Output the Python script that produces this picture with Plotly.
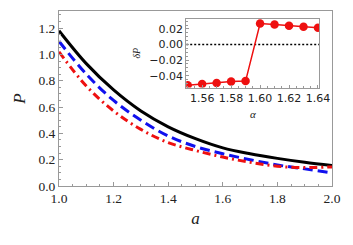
import plotly.graph_objects as go

# Main plot data
a_vals = [1.0, 1.1, 1.2, 1.3, 1.4, 1.5, 1.6, 1.7, 1.8, 1.9, 2.0]
p_black = [1.18, 0.93, 0.73, 0.57, 0.45, 0.36, 0.29, 0.245, 0.21, 0.18, 0.155]
p_blue = [1.10, 0.85, 0.65, 0.50, 0.38, 0.30, 0.245, 0.20, 0.16, 0.13, 0.10]
p_red = [1.02, 0.76, 0.57, 0.43, 0.33, 0.27, 0.22, 0.18, 0.15, 0.14, 0.145]

# Inset data
alpha_vals = [1.55, 1.56, 1.57, 1.58, 1.59, 1.60, 1.61, 1.62, 1.63, 1.64]
dP_vals = [-0.0522, -0.0506, -0.0493, -0.0475, -0.047, 0.0271, 0.0259, 0.0242, 0.0229, 0.0217]

main_ticks_x = [1.0, 1.2, 1.4, 1.6, 1.8, 2.0]
main_ticks_y = [0.0, 0.2, 0.4, 0.6, 0.8, 1.0, 1.2]
inset_ticks_x = [1.56, 1.58, 1.60, 1.62, 1.64]
inset_ticks_y = [-0.04, -0.02, 0.00, 0.02]

fig = go.Figure()
fig.add_trace(go.Scatter(x=a_vals, y=p_black, mode="lines", line=dict(color="black", width=3, shape="spline"), showlegend=False))
fig.add_trace(go.Scatter(x=a_vals, y=p_blue, mode="lines", line=dict(color="#1010ee", width=3, shape="spline", dash="10px,5px"), showlegend=False))
fig.add_trace(go.Scatter(x=a_vals, y=p_red, mode="lines", line=dict(color="#ee1010", width=3, shape="spline", dash="8px,4px,2px,4px"), showlegend=False))

fig.add_trace(go.Scatter(x=[1.549, 1.641], y=[0, 0], xaxis="x2", yaxis="y2", mode="lines",
                         line=dict(color="black", width=1.5, dash="2px,2px"), showlegend=False))
fig.add_trace(go.Scatter(x=alpha_vals, y=dP_vals, xaxis="x2", yaxis="y2", mode="lines+markers",
                         line=dict(color="#ee1010", width=1.5), marker=dict(color="#ee1010", size=8.5), showlegend=False))

serif = "Liberation Serif"
sans = "DejaVu Sans"
gray = "#999999"

fig.update_layout(
    width=353, height=245,
    margin=dict(l=59, r=11, t=10, b=59),
    plot_bgcolor="white", paper_bgcolor="white",
    xaxis=dict(range=[1.0, 2.0], tickvals=main_ticks_x, ticktext=[f"{v:.1f}" for v in main_ticks_x],
               showgrid=False, zeroline=False, showline=True, linecolor=gray, linewidth=1, mirror=True,
               ticks="inside", ticklen=4, tickcolor=gray,
               minor=dict(ticks="inside", ticklen=2, tickcolor=gray, dtick=0.05, showgrid=False),
               tickfont=dict(family=serif, size=13.5, color="#222"),
               title=dict(text="<i>a</i>", font=dict(family=serif, size=17, color="#222"), standoff=6)),
    yaxis=dict(range=[0, 1.33], tickvals=main_ticks_y, ticktext=[f"{v:.1f}" for v in main_ticks_y],
               showgrid=False, zeroline=False, showline=True, linecolor=gray, linewidth=1, mirror=True,
               ticks="inside", ticklen=4, tickcolor=gray,
               minor=dict(ticks="inside", ticklen=2, tickcolor=gray, dtick=0.05, showgrid=False),
               tickfont=dict(family=serif, size=13.5, color="#222"),
               title=dict(text="<i>P</i>", font=dict(family=serif, size=17, color="#222"), standoff=8)),
    xaxis2=dict(domain=[0.466, 0.954], anchor="y2", range=[1.549, 1.641], tickvals=inset_ticks_x,
                ticktext=[f"{v:.2f}" for v in inset_ticks_x],
                showgrid=False, zeroline=False, showline=True, linecolor=gray, linewidth=1, mirror=True,
                ticks="inside", ticklen=3, tickcolor=gray,
                minor=dict(ticks="inside", ticklen=1.5, tickcolor=gray, dtick=0.005, showgrid=False),
                tickfont=dict(family=sans, size=11, color="#222"),
                title=dict(text="<i>α</i>", font=dict(family=serif, size=11, color="#222"), standoff=6)),
    yaxis2=dict(domain=[0.5625, 0.955], anchor="x2", range=[-0.0553, 0.033], tickvals=inset_ticks_y,
                ticktext=["\u22120.04", "\u22120.02", "0.00", "0.02"],
                showgrid=False, zeroline=False, showline=True, linecolor=gray, linewidth=1, mirror=True,
                ticks="inside", ticklen=3, tickcolor=gray,
                minor=dict(ticks="inside", ticklen=1.5, tickcolor=gray, dtick=0.005, showgrid=False),
                tickfont=dict(family=sans, size=11, color="#222"),
                title=dict(text="<i>δP</i>", font=dict(family=serif, size=10, color="#222"), standoff=6)),
)
fig.add_shape(type="rect", xref="x2 domain", yref="y2 domain", x0=0, x1=1, y0=0, y1=1,
              fillcolor="white", line=dict(width=0), layer="below")

fig.write_html("out.html", config={"displayModeBar": False}, post_script="document.body.style.margin='0';")
